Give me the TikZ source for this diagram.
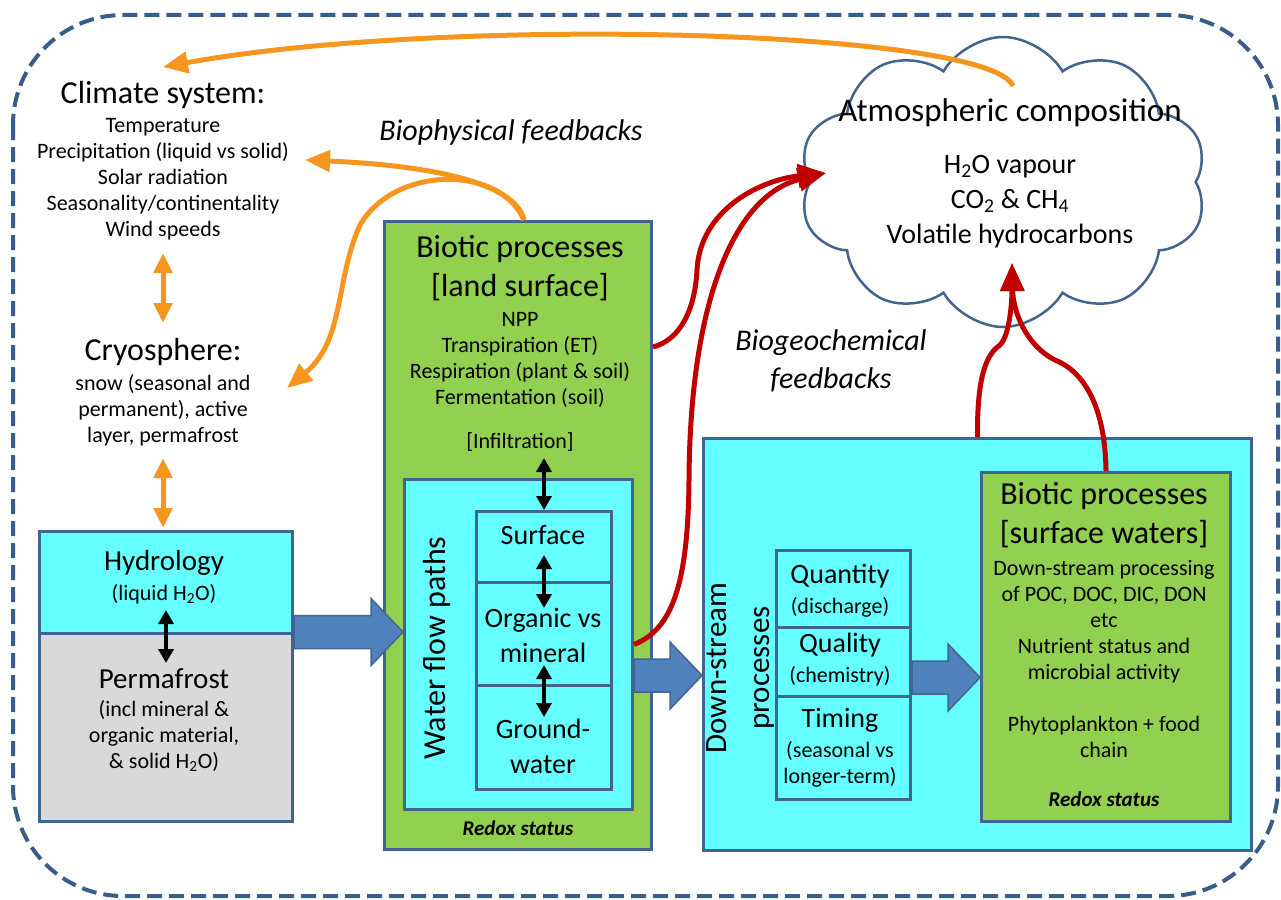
\documentclass[tikz,border=0pt]{standalone}
\usepackage{fontspec}
\setmainfont{Carlito}
\usetikzlibrary{arrows.meta,shapes.symbols,calc}

\definecolor{frameblue}{RGB}{56,93,138}
\definecolor{boxblue}{RGB}{65,100,145}
\definecolor{watercyan}{RGB}{102,255,255}
\definecolor{leafgreen}{RGB}{146,208,80}
\definecolor{frostgrey}{RGB}{217,217,217}
\definecolor{feedorange}{RGB}{247,150,30}
\definecolor{carbonred}{RGB}{192,0,0}
\definecolor{flowblue}{RGB}{79,129,189}

% wide flow arrow, from #1 to the tip #2 (horizontal)
\newcommand{\blockarrow}[2]{%
  \filldraw[fill=flowblue, draw=boxblue, line width=1.5pt]
    ($(#1)+(0,-16.5)$) -- ($(#2)+(-32,-16.5)$) -- ($(#2)+(-32,-33.5)$) -- (#2)
    -- ($(#2)+(-32,33.5)$) -- ($(#2)+(-32,16.5)$) -- ($(#1)+(0,16.5)$) -- cycle;}

\begin{document}
\begin{tikzpicture}[x=1pt, y=-1pt,
    box/.style={draw=boxblue, line width=3pt, inner sep=0pt, anchor=north west},
    title/.style={font=\fontsize{32}{39}\selectfont, align=center, inner sep=0pt},
    mid/.style={font=\fontsize{28}{35}\selectfont, align=center, inner sep=0pt},
    small/.style={font=\fontsize{22}{26}\selectfont, align=center, inner sep=0pt},
    redox/.style={font=\fontsize{21}{24}\selectfont\bfseries\itshape, inner sep=0pt},
    feedback/.style={font=\fontsize{30}{38}\selectfont\itshape, align=center, inner sep=0pt},
    twoway/.style={{Triangle[length=14pt,width=15pt]}-{Triangle[length=14pt,width=15pt]}, line width=4pt},
    orangetwo/.style={feedorange, {Triangle[length=20pt,width=18pt]}-{Triangle[length=20pt,width=18pt]}, line width=5pt},
    orangeline/.style={feedorange, line width=5pt, -{Triangle[length=25pt,width=21pt]}},
    redline/.style={carbonred, line width=5pt, -{Triangle[length=28pt,width=23pt]}}
  ]
  \useasboundingbox (0,0) rectangle (1281,899);

  % outer frame
  \draw[frameblue, line width=4pt, dash pattern=on 15pt off 7pt, rounded corners=110pt]
    (13,15) rectangle (1278,896);

  % atmosphere
  \node[cloud, draw=boxblue, line width=2.5pt, cloud puffs=10, cloud puff arc=120,
    minimum width=408pt, minimum height=290pt, inner sep=0pt] (atmo) at (1003,182) {};
  \node[font=\fontsize{33}{39}\selectfont, inner sep=0pt] (atmotitle) at (1010,113) {Atmospheric composition};
  \node[mid] (atmogas) at (1010,202) {H\textsubscript{2}O vapour\\CO\textsubscript{2} \& CH\textsubscript{4}\\Volatile hydrocarbons};

  % climate and cryosphere
  \node[title] (climate) at (163,95) {Climate system:};
  \node[small] (climsub) at (163,179) {Temperature\\Precipitation (liquid vs solid)\\Solar radiation\\Seasonality/continentality\\Wind speeds};
  \node[title] (cryo) at (163,352) {Cryosphere:};
  \node[small] (cryosub) at (163,410) {snow (seasonal and\\permanent), active\\layer, permafrost};

  % hydrology and permafrost
  \node[box, fill=watercyan, minimum width=253pt, minimum height=102pt] (hydro) at (38,530) {};
  \node[box, fill=frostgrey, minimum width=253pt, minimum height=188pt] (perma) at (38,632) {};
  \node[font=\fontsize{29}{35}\selectfont, inner sep=0pt] (hydrotxt) at (164,563) {Hydrology};
  \node[small] (hydrosub) at (164,594) {(liquid H\textsubscript{2}O)};
  \node[font=\fontsize{29}{35}\selectfont, inner sep=0pt] (permatxt) at (164,679) {Permafrost};
  \node[small] (permasub) at (164,736) {(incl mineral \&\\organic material,\\\& solid H\textsubscript{2}O)};

  % land surface
  \node[box, fill=leafgreen, minimum width=267pt, minimum height=628pt] (landbox) at (383,220) {};
  \node[title] (landtitle) at (520,268) {Biotic processes\\{}[land surface]};
  \node[small] (landsub) at (520,360) {NPP\\Transpiration (ET)\\Respiration (plant \& soil)\\Fermentation (soil)};
  \node[small] (infil) at (520,442) {[Infiltration]};
  \node[box, fill=watercyan, minimum width=228pt, minimum height=330pt] (flowbox) at (403,478) {};
  \node[box, fill=watercyan, minimum width=135pt, minimum height=71pt] (surf) at (475,510) {};
  \node[box, fill=watercyan, minimum width=135pt, minimum height=103pt] (orgmin) at (475,581) {};
  \node[box, fill=watercyan, minimum width=135pt, minimum height=104pt] (ground) at (475,684) {};
  \node[mid] (surftxt) at (543,535) {Surface};
  \node[mid] (orgtxt) at (543,635) {Organic vs\\mineral};
  \node[mid] (groundtxt) at (543,746) {Ground-\\water};
  \node[font=\fontsize{32}{39}\selectfont, rotate=90, inner sep=0pt] (flowlabel) at (437,648) {Water flow paths};
  \node[redox] (landredox) at (518,828) {Redox status};

  % down-stream
  \node[box, fill=watercyan, minimum width=548pt, minimum height=412pt] (downbox) at (702,437) {};
  \node[font=\fontsize{31}{43}\selectfont, rotate=90, align=center, inner sep=0pt] (downlabel) at (741,668) {Down-stream\\processes};
  \node[box, fill=watercyan, minimum width=134pt, minimum height=77pt] (quant) at (775,549) {};
  \node[box, fill=watercyan, minimum width=134pt, minimum height=69pt] (qual) at (775,626) {};
  \node[box, fill=watercyan, minimum width=134pt, minimum height=103pt] (timing) at (775,695) {};
  \node[mid] (quanttxt) at (840,576) {Quantity};
  \node[small] (quantsub) at (840,607) {(discharge)};
  \node[mid] (qualtxt) at (840,645) {Quality};
  \node[small] (qualsub) at (840,676) {(chemistry)};
  \node[mid] (timetxt) at (840,720) {Timing};
  \node[small] (timesub) at (840,764) {(seasonal vs\\longer-term)};

  % surface waters
  \node[box, fill=leafgreen, minimum width=249pt, minimum height=349pt] (waterbox) at (980,471) {};
  \node[title] (watertitle) at (1104,515) {Biotic processes\\{}[surface waters]};
  \node[small] (watersub) at (1104,659) {Down-stream processing\\of POC, DOC, DIC, DON\\etc\\Nutrient status and\\microbial activity\\[26pt]Phytoplankton + food\\chain};
  \node[redox] (waterredox) at (1104,799) {Redox status};

  % feedback labels
  \node[feedback] (biophys) at (511,133) {Biophysical feedbacks};
  \node[feedback] (biogeo) at (831,361) {Biogeochemical\\feedbacks};

  % water transfers
  \blockarrow{perma.north east}{flowbox.west |- perma.north east}
  \coordinate (flowout) at ($(flowbox.east)+(0,31)$);
  \blockarrow{flowout}{downbox.west |- flowout}
  \coordinate (downout) at ($(qual.east)+(0,15.5)$);
  \blockarrow{downout}{waterbox.west |- downout}

  % exchanges inside the boxes
  \draw[twoway] ($(perma.north)+(0,-22)$) -- ($(perma.north)+(0,31)$);
  \draw[twoway] ($(surf.north)+(0,-52)$) -- (surf.north);
  \draw[twoway] ($(surf.south)+(0,-29)$) -- ($(surf.south)+(0,24)$);
  \draw[twoway] ($(ground.north)+(0,-19)$) -- ($(ground.north)+(0,33)$);

  % climate links
  \coordinate (climbot) at (163,253);
  \coordinate (cryotop) at (163,323);
  \coordinate (cryobot) at (163,458);
  \coordinate (hydrotop) at (163,528);
  \draw[orangetwo] (climbot) -- (cryotop);
  \draw[orangetwo] (cryobot) -- (hydrotop);

  % biophysical feedbacks
  \coordinate (atmotop) at (1013,86);
  \coordinate (climtip) at (163,67);
  \coordinate (landtop) at ($(landbox.north)+(6,0)$);
  \coordinate (preciptip) at (305,160);
  \coordinate (snowtip) at (287,388);
  \draw[orangeline] (atmotop) .. controls (990,30) and (450,15) .. (climtip);
  \draw[orangeline] (landtop) .. controls (515,180) and (420,165) .. (preciptip);
  \draw[orangeline] (landtop) .. controls (500,165) and (395,165) .. (360,225)
    .. controls (335,280) and (345,340) .. (snowtip);

  % biogeochemical feedbacks
  \coordinate (landout) at ($(landbox.north east)+(0,127)$);
  \coordinate (atmoleft) at (826,173);
  \coordinate (atmobottom) at (1012,263);
  \draw[redline] (landout) .. controls (680,340) and (695,310) .. (697,270)
    .. controls (700,210) and (760,180) .. (atmoleft);
  \draw[redline] (flowbox.east) .. controls (670,630) and (688,590) .. (689,480)
    .. controls (690,300) and (735,195) .. (atmoleft);
  \draw[redline] (downbox.north) .. controls (977,380) and (985,355) .. (1000,345)
    .. controls (1010,335) and (1012,300) .. (atmobottom);
  \draw[redline] (waterbox.north) .. controls (1105,400) and (1080,370) .. (1055,360)
    .. controls (1025,345) and (1013,310) .. (atmobottom);
\end{tikzpicture}
\end{document}
